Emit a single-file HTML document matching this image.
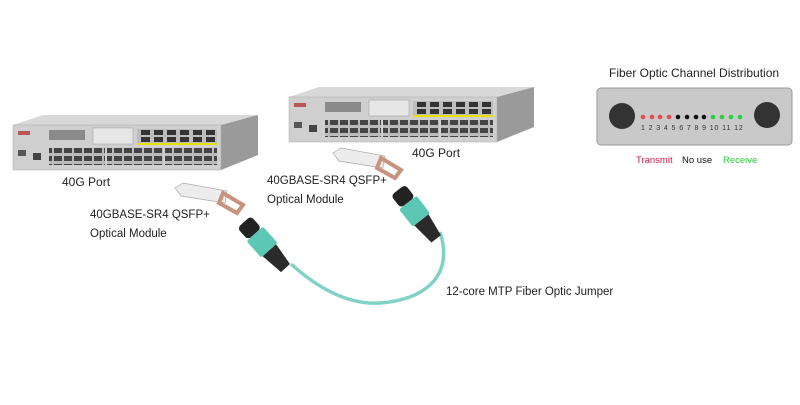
<!DOCTYPE html>
<html><head><style>
body{margin:0;width:800px;height:400px;background:#fff;overflow:hidden;font-family:"Liberation Sans","DejaVu Sans",sans-serif}
</style></head><body>
<svg width="800" height="400" viewBox="0 0 800 400" xmlns="http://www.w3.org/2000/svg" font-family="'Liberation Sans','DejaVu Sans',sans-serif">
<defs>
<pattern id="ports" width="10" height="8" patternUnits="userSpaceOnUse">
<rect width="10" height="8" fill="#bbb"/><rect x="1" y="1" width="8" height="5" fill="#444"/>
</pattern>
<g id="sw">
<polygon points="0,10 30,0 245,0 208,10" fill="#d8d8d8"/>
<polygon points="208,10 245,0 245,40 208,55" fill="#9a9a9a"/>
<rect x="0" y="10" width="208" height="45" fill="#cfcfcf" stroke="#aaa" stroke-width="0.5"/>
<rect x="36" y="15" width="36" height="10" fill="#8a8a8a"/>
<rect x="80" y="13" width="40" height="16" fill="#e6e6e6" stroke="#999" stroke-width="0.5"/>
<rect x="124" y="14" width="80" height="16" fill="#bdbdbd"/>
<g fill="#333"><rect x="128" y="15" width="9" height="5"/><rect x="141" y="15" width="9" height="5"/><rect x="154" y="15" width="9" height="5"/><rect x="167" y="15" width="9" height="5"/><rect x="180" y="15" width="9" height="5"/><rect x="193" y="15" width="9" height="5"/>
<rect x="128" y="22" width="9" height="5"/><rect x="141" y="22" width="9" height="5"/><rect x="154" y="22" width="9" height="5"/><rect x="167" y="22" width="9" height="5"/><rect x="180" y="22" width="9" height="5"/><rect x="193" y="22" width="9" height="5"/></g>
<rect x="124" y="28" width="80" height="2" fill="#e8e000"/>
<rect x="5" y="16" width="12" height="4" fill="#b55"/>
<rect x="36" y="33" width="56" height="17" fill="url(#ports)"/>
<rect x="94" y="33" width="56" height="17" fill="url(#ports)"/>
<rect x="152" y="33" width="52" height="17" fill="url(#ports)"/>
<rect x="5" y="35" width="8" height="6" fill="#555"/><rect x="20" y="38" width="8" height="7" fill="#444"/>
</g>
<g id="mod">
<polygon points="0,5 8,0 52,8 50,20 6,13" fill="#ececec" stroke="#aaa" stroke-width="0.7"/>
<polygon points="48,10 68,22 62,30 44,20" fill="none" stroke="#c8937e" stroke-width="4"/>
</g>
<g id="conn">
<rect x="-9" y="0" width="18" height="16" rx="4" fill="#222"/>
<rect x="-11" y="16" width="22" height="22" rx="2" fill="#5cc8b4"/>
<polygon points="-9,38 9,38 6,62 -6,62" fill="#2a2a2a"/>
</g>
</defs>

<use href="#sw" x="13" y="115"/>
<use href="#sw" x="289" y="87"/>

<text x="62" y="186" font-size="12" fill="#222">40G Port</text>
<text x="412" y="157" font-size="12" fill="#222">40G Port</text>

<use href="#mod" x="175" y="183"/>
<use href="#mod" x="333" y="148"/>

<text x="90" y="218" font-size="11.5" fill="#222">40GBASE-SR4 QSFP+</text>
<text x="90" y="237" font-size="11.5" fill="#222">Optical Module</text>
<text x="267" y="184" font-size="11.5" fill="#222">40GBASE-SR4 QSFP+</text>
<text x="267" y="203" font-size="11.5" fill="#222">Optical Module</text>

<path d="M291,264 C320,290 350,305 380,303 C420,300 455,280 440,232" fill="none" stroke="#7fd3c5" stroke-width="3.5"/>
<g transform="translate(244,222) rotate(-42)"><use href="#conn"/></g>
<g transform="translate(398,190) rotate(-38)"><use href="#conn"/></g>
<text x="446" y="295" font-size="11.5" fill="#222">12-core MTP Fiber Optic Jumper</text>

<text x="609" y="77" font-size="12" fill="#222">Fiber Optic Channel Distribution</text>
<rect x="597" y="88" width="195" height="57" rx="4" fill="#c9c9c9" stroke="#999"/>
<circle cx="622" cy="116" r="13" fill="#333"/>
<circle cx="767" cy="115" r="13" fill="#333"/>
<g>
<circle cx="643" cy="117" r="2.3" fill="#e84b4b"/><circle cx="652" cy="117" r="2.3" fill="#e84b4b"/><circle cx="660" cy="117" r="2.3" fill="#e84b4b"/><circle cx="669" cy="117" r="2.3" fill="#e84b4b"/>
<circle cx="678" cy="117" r="2.3" fill="#111"/><circle cx="687" cy="117" r="2.3" fill="#111"/><circle cx="696" cy="117" r="2.3" fill="#111"/><circle cx="704" cy="117" r="2.3" fill="#111"/>
<circle cx="713" cy="117" r="2.3" fill="#2ecc40"/><circle cx="722" cy="117" r="2.3" fill="#2ecc40"/><circle cx="731" cy="117" r="2.3" fill="#2ecc40"/><circle cx="740" cy="117" r="2.3" fill="#2ecc40"/>
</g>
<text x="641" y="130" font-size="7" fill="#333" letter-spacing="0.9">1 2 3 4 5 6 7 8 9 10 11 12</text>
<text x="636" y="163" font-size="9.5" fill="#c0204a">Transmit</text>
<text x="682" y="163" font-size="9.5" fill="#111">No use</text>
<text x="723" y="163" font-size="9.5" fill="#2ecc40">Receive</text>
</svg>
</body></html>
